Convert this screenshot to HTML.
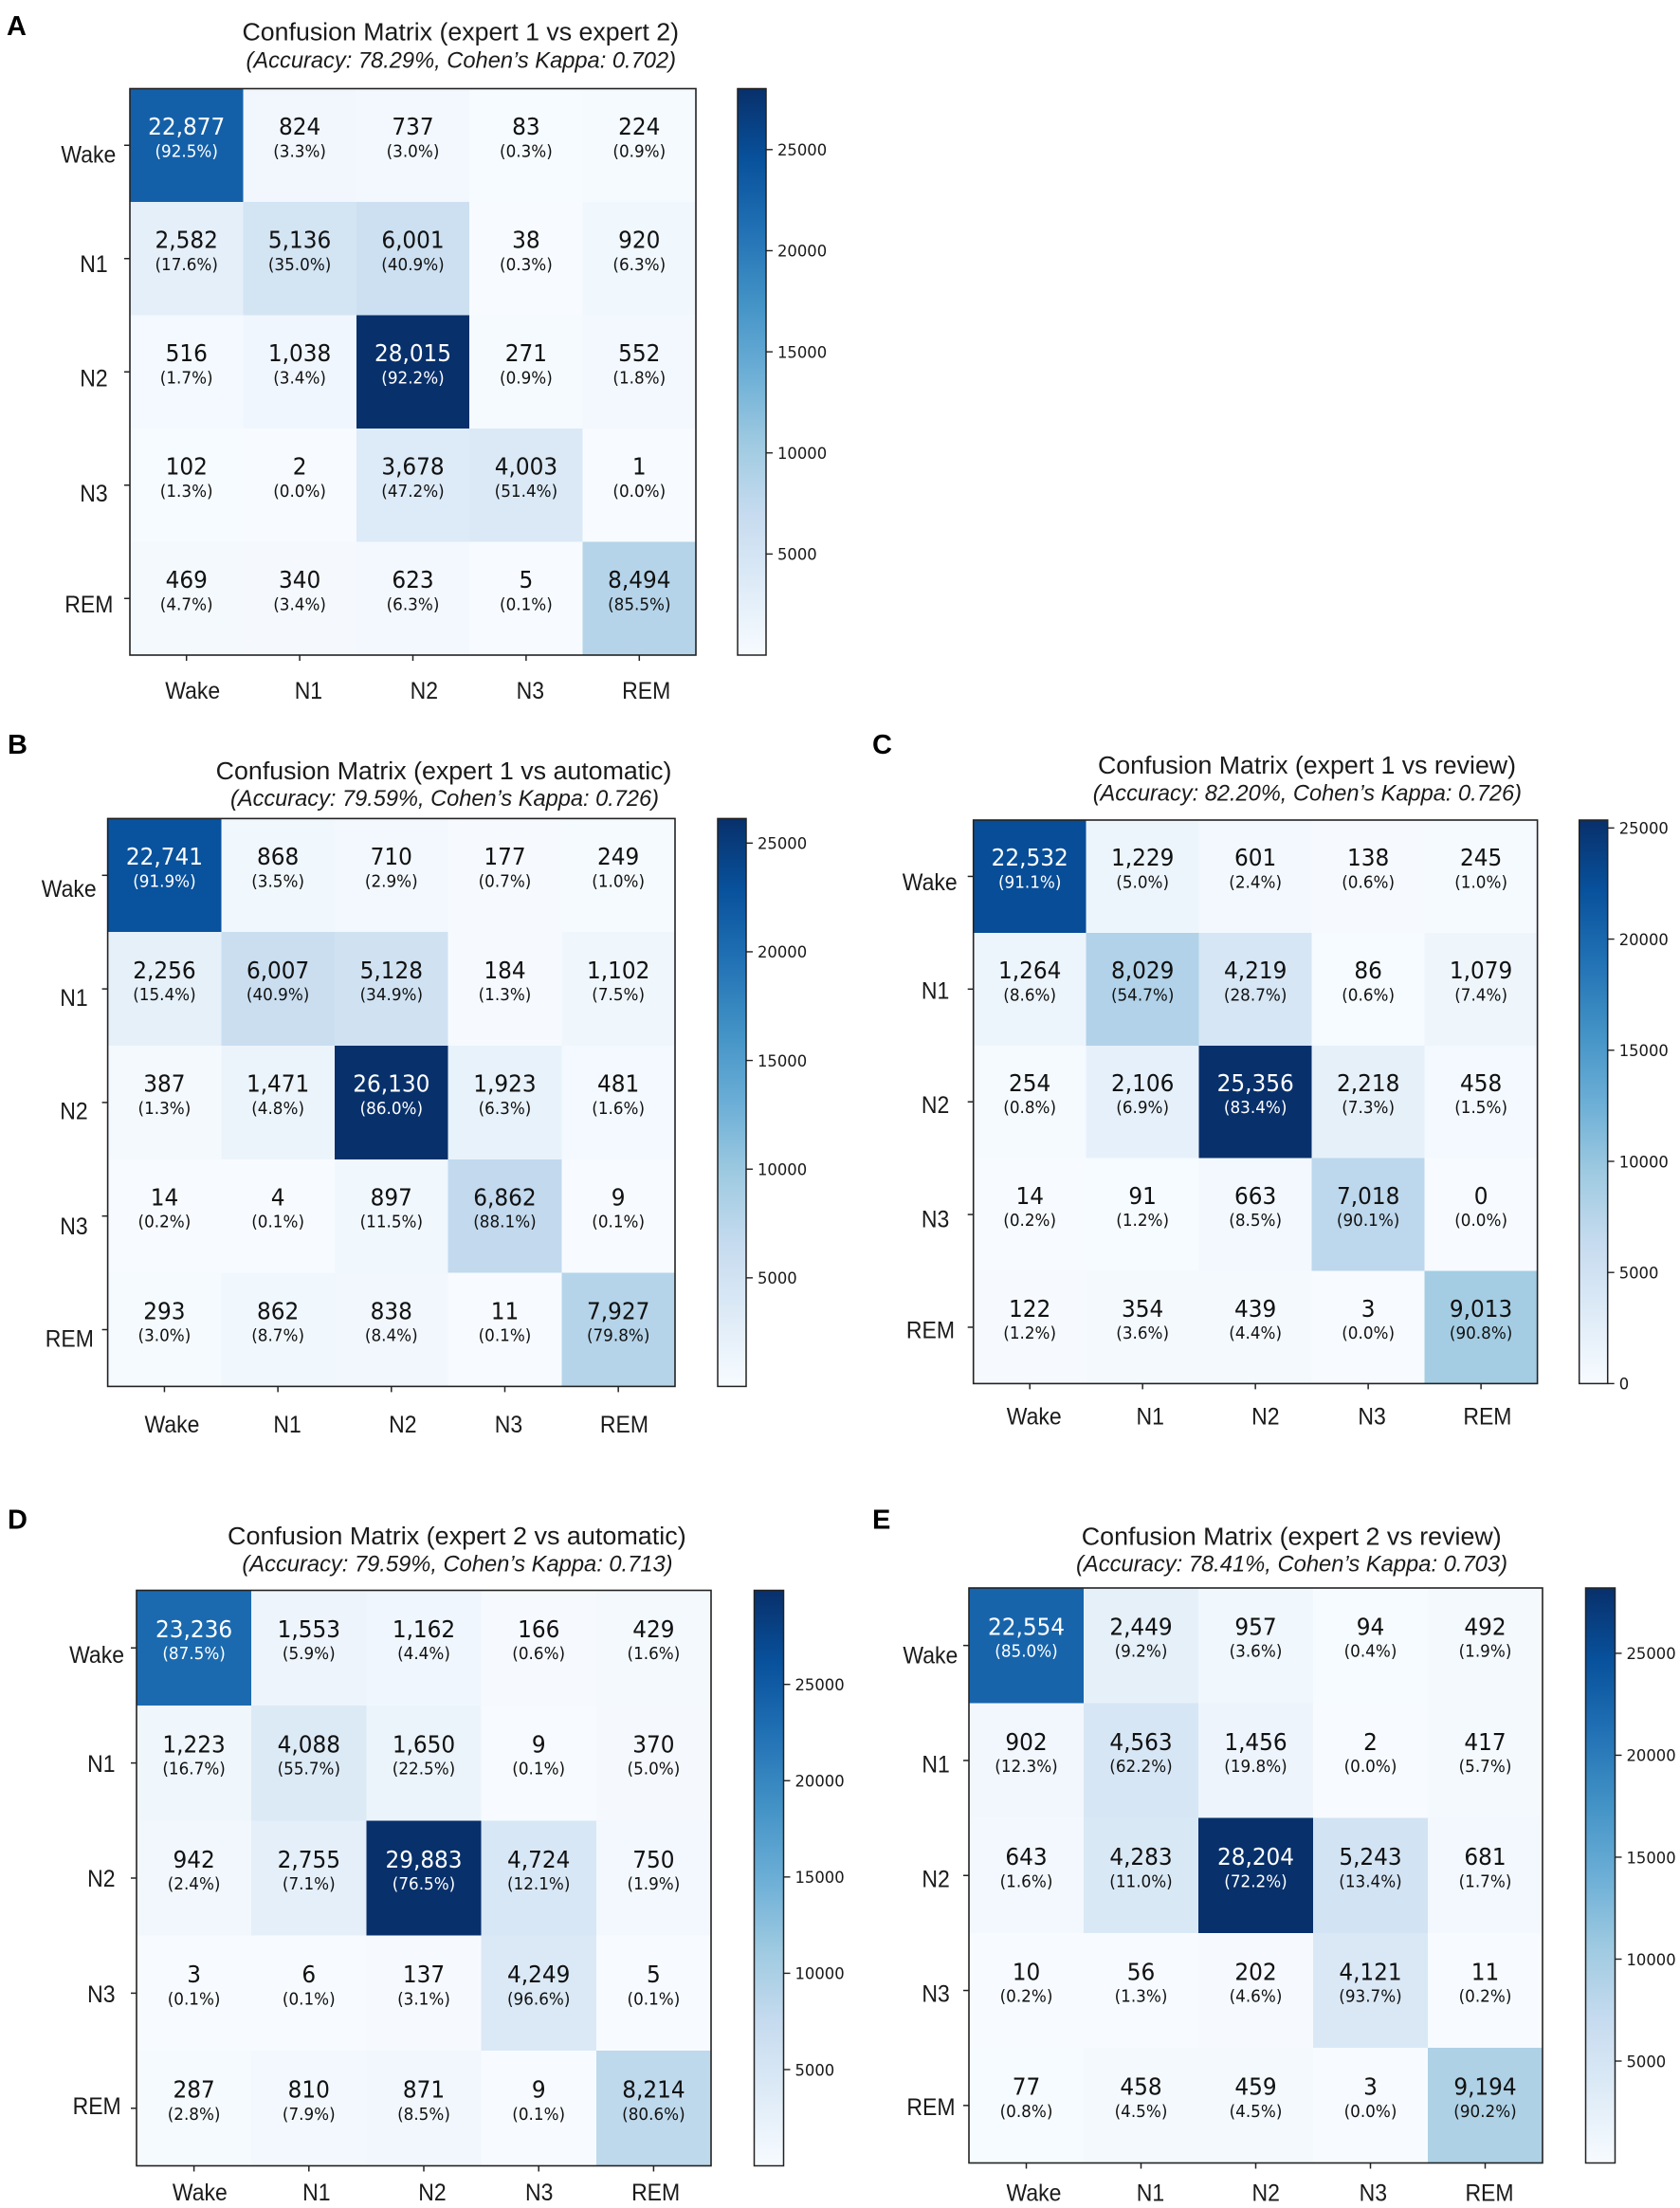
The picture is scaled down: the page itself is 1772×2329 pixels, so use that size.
<!DOCTYPE html>
<html lang="en">
<head>
<meta charset="utf-8">
<title>Confusion matrices</title>
<style>
html,body{margin:0;padding:0;background:#fff;}
svg{display:block;}
.panel-letter{font:bold 29px "Liberation Sans",sans-serif;fill:#000;}
.title{font:25.5px "Liberation Sans",sans-serif;fill:#1a1a1a;}
.subtitle{font:italic 24px "Liberation Sans",sans-serif;fill:#1a1a1a;}
.count{font-family:"DejaVu Sans",sans-serif;font-size:23.2px;text-anchor:middle;}
.pct{font-family:"DejaVu Sans",sans-serif;font-size:16.8px;text-anchor:middle;}
.tick-label{font-family:"Liberation Sans",sans-serif;font-size:23px;fill:#1a1a1a;}
.cbar-label{font-family:"DejaVu Sans",sans-serif;font-size:16.4px;fill:#1a1a1a;}
</style>
</head>
<body>
<svg id="figure" xmlns="http://www.w3.org/2000/svg" width="1772" height="2329" viewBox="0 0 1772 2329">
  <defs id="defs"></defs>
  <rect x="0" y="0" width="1772" height="2329" fill="#fff"/>

  <text class="panel-letter" x="7" y="37">A</text>
  <text class="title" x="255.5" y="42.7" textLength="460.5" lengthAdjust="spacingAndGlyphs">Confusion Matrix (expert 1 vs expert 2)</text>
  <text class="subtitle" x="259.5" y="71.7" textLength="453.5" lengthAdjust="spacingAndGlyphs">(Accuracy: 78.29%, Cohen’s Kappa: 0.702)</text>

  <text class="panel-letter" x="8" y="794.8">B</text>
  <text class="title" x="227.7" y="821.8" textLength="480.8" lengthAdjust="spacingAndGlyphs">Confusion Matrix (expert 1 vs automatic)</text>
  <text class="subtitle" x="243" y="850.2" textLength="452" lengthAdjust="spacingAndGlyphs">(Accuracy: 79.59%, Cohen’s Kappa: 0.726)</text>

  <text class="panel-letter" x="920" y="794.8">C</text>
  <text class="title" x="1158" y="816.2" textLength="441" lengthAdjust="spacingAndGlyphs">Confusion Matrix (expert 1 vs review)</text>
  <text class="subtitle" x="1152.7" y="844.7" textLength="452.3" lengthAdjust="spacingAndGlyphs">(Accuracy: 82.20%, Cohen’s Kappa: 0.726)</text>

  <text class="panel-letter" x="8" y="1612.6">D</text>
  <text class="title" x="240" y="1629" textLength="483.7" lengthAdjust="spacingAndGlyphs">Confusion Matrix (expert 2 vs automatic)</text>
  <text class="subtitle" x="255.4" y="1657.6" textLength="454.2" lengthAdjust="spacingAndGlyphs">(Accuracy: 79.59%, Cohen’s Kappa: 0.713)</text>

  <text class="panel-letter" x="920" y="1612.6">E</text>
  <text class="title" x="1140.8" y="1629.5" textLength="442.9" lengthAdjust="spacingAndGlyphs">Confusion Matrix (expert 2 vs review)</text>
  <text class="subtitle" x="1135" y="1657.6" textLength="455" lengthAdjust="spacingAndGlyphs">(Accuracy: 78.41%, Cohen’s Kappa: 0.703)</text>
</svg>
<script>
// ---- chart data ----
const categories = ["Wake", "N1", "N2", "N3", "REM"];

const colorbarTicksA = [5000, 10000, 15000, 20000, 25000];
const colorbarTicksB = [5000, 10000, 15000, 20000, 25000];
const colorbarTicksC = [0, 5000, 10000, 15000, 20000, 25000];
const colorbarTicksD = [5000, 10000, 15000, 20000, 25000];
const colorbarTicksE = [5000, 10000, 15000, 20000, 25000];

const countsA = [
  [22877, 824, 737, 83, 224],
  [2582, 5136, 6001, 38, 920],
  [516, 1038, 28015, 271, 552],
  [102, 2, 3678, 4003, 1],
  [469, 340, 623, 5, 8494]
];
const percentsA = [
  ["92.5", "3.3", "3.0", "0.3", "0.9"],
  ["17.6", "35.0", "40.9", "0.3", "6.3"],
  ["1.7", "3.4", "92.2", "0.9", "1.8"],
  ["1.3", "0.0", "47.2", "51.4", "0.0"],
  ["4.7", "3.4", "6.3", "0.1", "85.5"]
];

const countsB = [
  [22741, 868, 710, 177, 249],
  [2256, 6007, 5128, 184, 1102],
  [387, 1471, 26130, 1923, 481],
  [14, 4, 897, 6862, 9],
  [293, 862, 838, 11, 7927]
];
const percentsB = [
  ["91.9", "3.5", "2.9", "0.7", "1.0"],
  ["15.4", "40.9", "34.9", "1.3", "7.5"],
  ["1.3", "4.8", "86.0", "6.3", "1.6"],
  ["0.2", "0.1", "11.5", "88.1", "0.1"],
  ["3.0", "8.7", "8.4", "0.1", "79.8"]
];

const countsC = [
  [22532, 1229, 601, 138, 245],
  [1264, 8029, 4219, 86, 1079],
  [254, 2106, 25356, 2218, 458],
  [14, 91, 663, 7018, 0],
  [122, 354, 439, 3, 9013]
];
const percentsC = [
  ["91.1", "5.0", "2.4", "0.6", "1.0"],
  ["8.6", "54.7", "28.7", "0.6", "7.4"],
  ["0.8", "6.9", "83.4", "7.3", "1.5"],
  ["0.2", "1.2", "8.5", "90.1", "0.0"],
  ["1.2", "3.6", "4.4", "0.0", "90.8"]
];

const countsD = [
  [23236, 1553, 1162, 166, 429],
  [1223, 4088, 1650, 9, 370],
  [942, 2755, 29883, 4724, 750],
  [3, 6, 137, 4249, 5],
  [287, 810, 871, 9, 8214]
];
const percentsD = [
  ["87.5", "5.9", "4.4", "0.6", "1.6"],
  ["16.7", "55.7", "22.5", "0.1", "5.0"],
  ["2.4", "7.1", "76.5", "12.1", "1.9"],
  ["0.1", "0.1", "3.1", "96.6", "0.1"],
  ["2.8", "7.9", "8.5", "0.1", "80.6"]
];

const countsE = [
  [22554, 2449, 957, 94, 492],
  [902, 4563, 1456, 2, 417],
  [643, 4283, 28204, 5243, 681],
  [10, 56, 202, 4121, 11],
  [77, 458, 459, 3, 9194]
];
const percentsE = [
  ["85.0", "9.2", "3.6", "0.4", "1.9"],
  ["12.3", "62.2", "19.8", "0.0", "5.7"],
  ["1.6", "11.0", "72.2", "13.4", "1.7"],
  ["0.2", "1.3", "4.6", "93.7", "0.2"],
  ["0.8", "4.5", "4.5", "0.0", "90.2"]
];

// ---- matplotlib "Blues" colormap anchors ----
const bluesStops = ["#f7fbff", "#deebf7", "#c6dbef", "#9ecae1", "#6baed6", "#4292c6", "#2171b5", "#08519c", "#08306b"];

// ---- layout (frame geometry and hand-placed label offsets of each panel) ----
const panels = [
  { id: "a", counts: countsA, percents: percentsA, cbTicks: colorbarTicksA,
    x: 137, y: 93.5, w: 597, h: 597.5, cbX: 778, cbW: 30, xBase: 46,
    xDx: [6.5, 9.3, 11.8, 4.4, 7.4], yRight: [-14.7, -23.3, -23.3, -23.3, -17.6], yDy: [18, 14, 15, 17, 14.5] },
  { id: "b", counts: countsB, percents: percentsB, cbTicks: colorbarTicksB,
    x: 113.6, y: 863.4, w: 598.4, h: 599, cbX: 757, cbW: 30, xBase: 48.6,
    xDx: [8, 10, 12, 4, 6.3], yRight: [-11.9, -20.9, -20.9, -20.9, -14.7], yDy: [22.9, 18, 17.8, 19.2, 17.9] },
  { id: "c", counts: countsC, percents: percentsC, cbTicks: colorbarTicksC,
    x: 1026.7, y: 865, w: 594.9, h: 594.4, cbX: 1665.7, cbW: 30, xBase: 43.3,
    xDx: [4.5, 8, 10.7, 4, 6.8], yRight: [-17, -25.4, -25.4, -25.4, -19.7], yDy: [14.4, 10, 11.6, 13.5, 11.7] },
  { id: "d", counts: countsD, percents: percentsD, cbTicks: colorbarTicksD,
    x: 144, y: 1677.5, w: 606, h: 607, cbX: 795.5, cbW: 31, xBase: 36.6,
    xDx: [6.2, 8, 9, 0.5, 2.2], yRight: [-13, -22.5, -22.5, -22.5, -16.3], yDy: [16, 9.6, 9.2, 9.6, 6.3] },
  { id: "e", counts: countsE, percents: percentsE, cbTicks: colorbarTicksE,
    x: 1022, y: 1675, w: 605, h: 606.5, cbX: 1672.5, cbW: 31, xBase: 40.2,
    xDx: [8, 10, 10.7, 2.8, 4.5], yRight: [-11.7, -20.2, -20.2, -20.2, -14.5], yDy: [19, 12.5, 12, 12, 10] }
];

const SVG_NS = "http://www.w3.org/2000/svg";
const figure = document.getElementById("figure");
const defs = document.getElementById("defs");
const FRAME = "#222";

function make(tag, attrs, parent) {
  const node = document.createElementNS(SVG_NS, tag);
  for (const key in attrs) node.setAttribute(key, attrs[key]);
  parent.appendChild(node);
  return node;
}

function hexToRgb(hex) {
  return [1, 3, 5].map(function (i) { return parseInt(hex.substr(i, 2), 16); });
}

function blues(t) {
  const clamped = Math.max(0, Math.min(1, t));
  const pos = clamped * (bluesStops.length - 1);
  const lo = Math.min(Math.floor(pos), bluesStops.length - 2);
  const f = pos - lo;
  const a = hexToRgb(bluesStops[lo]);
  const b = hexToRgb(bluesStops[lo + 1]);
  return "rgb(" + a.map(function (v, i) { return Math.round(v + (b[i] - v) * f); }).join(",") + ")";
}

function stretchedText(parent, cls, content, x, y, scaleY, anchor, fill) {
  const attrs = { "class": cls, transform: "translate(" + x + " " + y + ") scale(1 " + scaleY + ")" };
  if (anchor) attrs["text-anchor"] = anchor;
  if (fill) attrs.fill = fill;
  const node = make("text", attrs, parent);
  node.textContent = content;
  return node;
}

function renderPanel(p) {
  const flat = p.counts.reduce(function (all, row) { return all.concat(row); }, []);
  const vmin = Math.min.apply(null, flat);
  const vmax = Math.max.apply(null, flat);
  const norm = function (v) { return (v - vmin) / (vmax - vmin); };
  const n = categories.length;
  const cellW = p.w / n;
  const cellH = p.h / n;
  const xCenter = function (i) { return p.x + (i + 0.5) * cellW; };
  const yCenter = function (i) { return p.y + (i + 0.5) * cellH; };
  const cbarY = function (v) { return p.y + (1 - norm(v)) * p.h; };

  const group = make("g", {}, figure);
  
  

  // heatmap cells
  p.counts.forEach(function (row, r) {
    row.forEach(function (value, c) {
      const cell = make("rect", {
        x: p.x + c * cellW, y: p.y + r * cellH, width: cellW, height: cellH,
        fill: blues(norm(value)), "shape-rendering": "crispEdges"
      }, group);
      
      
    });
  });

  // printed values
  p.counts.forEach(function (row, r) {
    row.forEach(function (value, c) {
      const color = value > vmax / 2 ? "#ffffff" : "#111111";
      const countText = stretchedText(group, "count", value.toLocaleString("en-US"), xCenter(c), yCenter(r) - 11.2, 1.08, null, color);
      
      
      const pctText = stretchedText(group, "pct", "(" + p.percents[r][c] + "%)", xCenter(c), yCenter(r) + 12, 1.05, null, color);
      
      
    });
  });

  // frame
  const frame = make("rect", { x: p.x, y: p.y, width: p.w, height: p.h, fill: "none", stroke: FRAME, "stroke-width": 1.6 }, group);
  
  

  // axis ticks and labels
  categories.forEach(function (name, i) {
    const xTick = make("line", { x1: xCenter(i), x2: xCenter(i), y1: p.y + p.h, y2: p.y + p.h + 6, stroke: FRAME, "stroke-width": 1.5 }, group);
    
    
    const yTick = make("line", { x1: p.x - 6, x2: p.x, y1: yCenter(i), y2: yCenter(i), stroke: FRAME, "stroke-width": 1.5 }, group);
    
    
    const xLabel = stretchedText(group, "tick-label", name, xCenter(i) + p.xDx[i], p.y + p.h + p.xBase, 1.08, "middle");
    
    
    const yLabel = stretchedText(group, "tick-label", name, p.x + p.yRight[i], yCenter(i) + p.yDy[i], 1.08, "end");
    
    
  });

  // colorbar
  const gradient = make("linearGradient", { id: "blues-" + p.id, x1: 0, x2: 0, y1: 1, y2: 0 }, defs);
  bluesStops.forEach(function (stop, i) {
    make("stop", { offset: i / (bluesStops.length - 1), "stop-color": stop }, gradient);
  });
  const bar = make("rect", { x: p.cbX, y: p.y, width: p.cbW, height: p.h, fill: "url(#blues-" + p.id + ")", stroke: FRAME, "stroke-width": 1.5 }, group);
  
  
  p.cbTicks.forEach(function (v) {
    const y = cbarY(v);
    const tick = make("line", { x1: p.cbX + p.cbW, x2: p.cbX + p.cbW + 7, y1: y, y2: y, stroke: FRAME, "stroke-width": 1.4 }, group);
    
    
    const label = make("text", { "class": "cbar-label", x: p.cbX + p.cbW + 12, y: y + 6.3 }, group);
    label.textContent = String(v);
    
    
  });
}

panels.forEach(renderPanel);
</script>
</body>
</html>
